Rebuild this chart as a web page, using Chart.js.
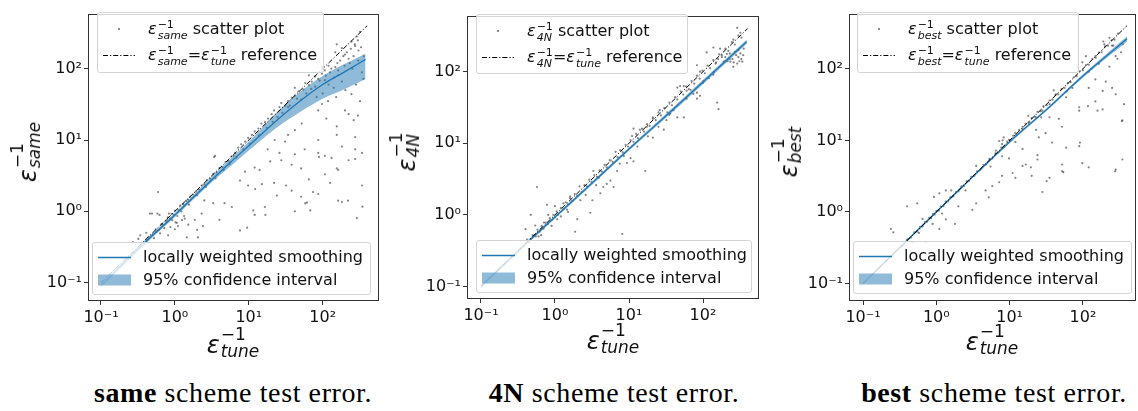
<!DOCTYPE html>
<html lang="en">
<head>
<meta charset="UTF-8">
<title>Scheme test error vs tuned error</title>
<script src="https://cdn.jsdelivr.net/npm/chart.js"></script>
<style>
  body { margin:0; width:1138px; height:411px; position:relative; overflow:hidden; background:#fff;
         font-family:'DejaVu Sans', sans-serif; color:#111; }
  canvas { position:absolute; }
  .e { font-style:italic; }
  .ss { display:inline-flex; flex-direction:column; font-size:11px; line-height:10.5px; vertical-align:6px; margin-left:1px; }
  .ss .sb { font-style:italic; }
  .leg { position:absolute; z-index:2; box-sizing:border-box; background:rgba(255,255,255,0.8);
         border:1px solid #d4d4d4; border-radius:3px; font-size:16px; }
  .row { position:absolute; left:0; right:0; height:24px; }
  .row svg { position:absolute; left:5px; top:6px; }
  .row .txt { position:absolute; left:50px; top:0; line-height:24px; white-space:nowrap; }
  .ttl { position:absolute; font-size:24px; line-height:24px; white-space:nowrap; transform:translate(-50%,-50%); }
  .ttl.y { transform:translate(-50%,-50%) rotate(-90deg); }
  .ttl .ss { font-size:17px; line-height:17px; vertical-align:13px; }
  .cap { position:absolute; top:379px; font-family:'Liberation Serif', serif; font-size:28px; line-height:28px;
         letter-spacing:0.6px; white-space:nowrap; transform:translateX(-50%); color:#000; }
</style>
</head>
<body>
<canvas id="c1"></canvas>
<canvas id="c2"></canvas>
<canvas id="c3"></canvas>

<!-- legends -->
<div class="leg" style="left:97px;top:12px;width:227px;height:61px">
  <div class="row" style="top:4px"><svg width="34" height="12"><circle cx="16" cy="6" r="1.1" fill="rgba(50,50,50,0.7)"/></svg>
    <span class="txt"><span class="e">ε</span><span class="ss"><span>−1</span><span class="sb">same</span></span> scatter plot</span></div>
  <div class="row" style="top:30px"><svg width="34" height="12"><line x1="0" y1="6.5" x2="32" y2="6.5" stroke="#000" stroke-width="1" stroke-dasharray="5 2 1.2 2"/></svg>
    <span class="txt"><span class="e">ε</span><span class="ss"><span>−1</span><span class="sb">same</span></span>=<span class="e">ε</span><span class="ss"><span>−1</span><span class="sb">tune</span></span> reference</span></div>
</div>
<div class="leg" style="left:92px;top:242px;width:279px;height:53px">
  <div class="row" style="top:2px"><svg width="34" height="12"><line x1="0" y1="6.5" x2="33" y2="6.5" stroke="#1f77b4" stroke-width="1.3"/></svg>
    <span class="txt">locally weighted smoothing</span></div>
  <div class="row" style="top:25px"><svg width="34" height="12"><rect x="0" y="0.5" width="33" height="11" fill="rgba(31,119,180,0.5)"/></svg>
    <span class="txt">95% confidence interval</span></div>
</div>

<div class="leg" style="left:476px;top:14px;width:212px;height:60px">
  <div class="row" style="top:4px"><svg width="34" height="12"><circle cx="16" cy="6" r="1.1" fill="rgba(50,50,50,0.7)"/></svg>
    <span class="txt"><span class="e">ε</span><span class="ss"><span>−1</span><span class="sb">4N</span></span> scatter plot</span></div>
  <div class="row" style="top:30px"><svg width="34" height="12"><line x1="0" y1="6.5" x2="32" y2="6.5" stroke="#000" stroke-width="1" stroke-dasharray="5 2 1.2 2"/></svg>
    <span class="txt"><span class="e">ε</span><span class="ss"><span>−1</span><span class="sb">4N</span></span>=<span class="e">ε</span><span class="ss"><span>−1</span><span class="sb">tune</span></span> reference</span></div>
</div>
<div class="leg" style="left:476px;top:240px;width:276px;height:53px">
  <div class="row" style="top:2px"><svg width="34" height="12"><line x1="0" y1="6.5" x2="33" y2="6.5" stroke="#1f77b4" stroke-width="1.3"/></svg>
    <span class="txt">locally weighted smoothing</span></div>
  <div class="row" style="top:25px"><svg width="34" height="12"><rect x="0" y="0.5" width="33" height="11" fill="rgba(31,119,180,0.5)"/></svg>
    <span class="txt">95% confidence interval</span></div>
</div>

<div class="leg" style="left:857px;top:12px;width:222px;height:61px">
  <div class="row" style="top:4px"><svg width="34" height="12"><circle cx="16" cy="6" r="1.1" fill="rgba(50,50,50,0.7)"/></svg>
    <span class="txt"><span class="e">ε</span><span class="ss"><span>−1</span><span class="sb">best</span></span> scatter plot</span></div>
  <div class="row" style="top:30px"><svg width="34" height="12"><line x1="0" y1="6.5" x2="32" y2="6.5" stroke="#000" stroke-width="1" stroke-dasharray="5 2 1.2 2"/></svg>
    <span class="txt"><span class="e">ε</span><span class="ss"><span>−1</span><span class="sb">best</span></span>=<span class="e">ε</span><span class="ss"><span>−1</span><span class="sb">tune</span></span> reference</span></div>
</div>
<div class="leg" style="left:853px;top:241px;width:279px;height:53px">
  <div class="row" style="top:2px"><svg width="34" height="12"><line x1="0" y1="6.5" x2="33" y2="6.5" stroke="#1f77b4" stroke-width="1.3"/></svg>
    <span class="txt">locally weighted smoothing</span></div>
  <div class="row" style="top:25px"><svg width="34" height="12"><rect x="0" y="0.5" width="33" height="11" fill="rgba(31,119,180,0.5)"/></svg>
    <span class="txt">95% confidence interval</span></div>
</div>

<!-- axis titles -->
<div class="ttl y" style="left:26px;top:152px"><span class="e">ε</span><span class="ss"><span>−1</span><span class="sb">same</span></span></div>
<div class="ttl" style="left:233px;top:343px"><span class="e">ε</span><span class="ss"><span>−1</span><span class="sb">tune</span></span></div>
<div class="ttl y" style="left:405px;top:152px"><span class="e">ε</span><span class="ss"><span>−1</span><span class="sb">4N</span></span></div>
<div class="ttl" style="left:613px;top:339px"><span class="e">ε</span><span class="ss"><span>−1</span><span class="sb">tune</span></span></div>
<div class="ttl y" style="left:787px;top:152px"><span class="e">ε</span><span class="ss"><span>−1</span><span class="sb">best</span></span></div>
<div class="ttl" style="left:992px;top:340px"><span class="e">ε</span><span class="ss"><span>−1</span><span class="sb">tune</span></span></div>

<!-- captions -->
<div class="cap" style="left:233px"><b>same</b> scheme test error.</div>
<div class="cap" style="left:614px"><b>4N</b> scheme test error.</div>
<div class="cap" style="left:994px"><b>best</b> scheme test error.</div>

<script>
// log axes: same ticks on every panel
const tickVals = [0.1, 1, 10, 100];
const tickLabels = ['10⁻¹', '10⁰', '10¹', '10²'];
// reference line y = x, drawn between these tune values
const refEnds = [0.1, 400];

// scatter points [eps_tune^-1, eps_scheme^-1]
const samePts = [
  [0.24,0.23],[0.27,0.37],[0.28,0.26],[0.31,0.29],[0.32,0.41],[0.34,0.46],[0.35,0.33],[0.38,0.36],[0.41,0.5],[0.42,0.39],
  [0.44,0.43],[0.46,0.93],[0.49,0.93],[0.5,0.47],[0.52,0.42],[0.55,0.56],[0.57,0.52],[0.58,0.93],[0.59,1.86],[0.61,0.55],
  [0.63,0.49],[0.62,0.89],[0.66,0.66],[0.69,0.64],[0.72,0.58],[0.75,0.73],[0.78,0.76],[0.8,0.82],[0.81,0.46],[0.83,0.93],
  [0.86,0.79],[0.87,0.6],[0.9,0.92],[0.92,0.75],[0.96,0.9],[1.0,1.02],[1.02,0.7],[1.0,0.56],[1.06,0.69],[1.08,0.86],
  [1.12,1.05],[1.1,0.62],[1.18,1.2],[1.22,1.0],[1.25,0.75],[1.3,1.26],[1.33,0.86],[1.36,0.79],[1.42,1.4],[1.45,0.43],
  [1.5,1.46],[1.55,1.24],[1.52,0.65],[1.62,1.6],[1.76,1.72],[1.86,0.76],[1.92,1.9],[2.0,1.68],[2.0,0.55],[2.05,0.43],
  [2.12,2.02],[2.3,2.3],[2.3,0.93],[2.4,0.62],[2.5,2.38],[2.5,1.42],[2.62,2.2],[2.72,2.74],[3.0,2.88],[3.3,3.36],
  [3.3,1.3],[3.4,5.8],[3.5,6.0],[3.55,2.9],[3.65,3.5],[4.0,4.05],[4.0,0.76],[4.4,4.18],[4.55,3.8],[4.7,1.3],
  [4.85,4.9],[5.3,5.05],[5.5,4.6],[5.8,5.9],[5.9,1.15],[6.2,6.0],[6.5,6.6],[6.8,5.7],[7.2,7.8],[7.6,2.7],
  [7.6,0.54],[7.9,8.7],[8.4,7.4],[8.9,9.5],[8.9,3.6],[9.5,0.59],[9.8,10.7],[9.8,2.3],[10.3,8.8],[11,11.8],
  [11.5,1.03],[12,13.2],[12,4.1],[12.2,2.05],[12,0.89],[13.5,14.5],[13.8,11.6],[14,3.8],[14.8,17],[15,2.4],
  [16.5,1.15],[16.6,17.8],[16.8,0.89],[17.5,14.8],[18.2,20],[18,7.4],[19.5,5.0],[20.4,23],[21,18],[22,26],
  [22,2.5],[22.4,10],[24,1.66],[24.5,21],[26,29],[26,6.6],[27.5,33],[27.5,5.2],[28.5,24],[31,30],
  [31,9.5],[32,2.3],[34,35],[34,29],[34,11.8],[36,30.5],[38,39],[38,4.5],[38,1.95],[42,42],
  [42,54],[42,13.8],[42,6.3],[42,1.0],[45,38],[47,48],[51,37],[51,4.0],[51,1.6],[52,17],
  [55,51],[57,7.4],[58,63],[58,1.29],[60,45],[61,1.32],[65,59],[65,81],[65,2.8],[68,1.03],
  [70,52],[71,66],[74,1.86],[79,78],[79,56],[83,40],[87,72],[87,26],[87,10],[87,6.6],
  [89,5.8],[87,1.75],[91,68],[98,85],[98,105],[98,32],[100,45],[107,95],[107,69],[107,6.0],
  [107,3.3],[110,80],[112,20],[118,35],[120,110],[120,60],[126,89],[126,2.5],[131,100],[132,5.6],
  [141,54],[142,75],[148,105],[148,170],[152,40],[155,220],[155,15.5],[155,11.8],[155,4.0],[158,120],
  [162,81],[162,95],[162,3.8],[162,1.41],[172,130],[182,195],[182,66],[182,8.1],[182,1.35],[190,150],
  [198,110],[200,158],[200,26],[203,50],[212,170],[220,1.41],[224,138],[224,23],[224,5.2],[232,120],
  [240,190],[245,240],[245,44],[252,100],[263,19],[262,150],[272,220],[275,209],[275,11],[275,7.4],
  [275,5.4],[282,60],[290,282],[290,0.8],[300,22],[300,250],[302,130],[305,180],[320,330],[320,35],
  [330,200],[340,89],[340,6.6],[340,2.3],[345,1.16],[355,72],[360,150]
];
const fourNPts = [
  [0.42,0.45],[0.45,0.41],[0.5,0.52],[0.55,0.5],[0.58,0.62],[0.62,0.58],[0.66,0.7],[0.7,0.64],[0.75,0.78],[0.8,0.74],
  [0.85,0.9],[0.9,0.84],[0.95,1.0],[1.0,0.93],[1.05,1.12],[1.1,1.0],[1.2,1.25],[1.3,1.2],[1.4,1.5],[1.5,1.4],
  [1.6,1.7],[1.7,1.55],[1.85,1.95],[2.0,1.85],[2.15,2.5],[2.3,2.1],[2.5,2.6],[2.7,2.5],[2.9,3.1],[3.1,2.9],
  [3.4,3.6],[3.7,3.4],[4.0,4.2],[4.3,4.0],[4.7,5.0],[5.0,4.6],[5.5,5.8],[6.0,5.5],[6.6,7.6],[7.0,6.4],
  [7.6,8.0],[8.2,7.5],[9.0,9.5],[9.7,9.0],[10.5,11],[11.5,10.5],[12.5,13.5],[13.2,11.8],[15,16],[16,14.5],
  [17.5,18.5],[19,17.5],[21,22],[23,21],[25,27],[27,24.5],[30,31],[33,27],[35,37],[38,34],
  [42,44],[45,41],[50,53],[54,48],[59,62],[64,57],[70,74],[76,68],[83,88],[90,80],
  [98,104],[106,95],[115,122],[125,112],[138,145],[150,135],[165,175],[180,160],[200,210],[220,195],
  [245,260],[270,240],[300,320],[330,300],
  [0.6,0.5],[0.65,0.52],[0.9,0.7],[1.2,0.95],[1.5,1.1],[2.2,1.6],[2.6,1.9],[3.6,2.6],[7.5,5.2],[13,9],
  [18,12.5],[25,17],[35,25],[60,42],[100,70],[140,98],[200,140],[300,200],[280,170],[230,150],
  [0.57,2.45],[0.78,1.38],[0.47,1.0],[0.4,0.63],[0.54,0.71],[0.71,0.78],[1.0,1.32],[1.3,1.45],[1.6,1.8],[1.45,1.18],
  [2.0,0.87],[1.87,0.58],[3.0,1.07],[3.2,1.6],[3.3,4.1],[4.1,2.0],[4.5,2.45],[5.0,2.7],[5.6,3.0],[6.2,2.45],
  [3.9,3.3],[8.1,0.54],[16.6,4.1],[11.5,5.6],[10.5,6.2],[9.4,5.3],[8.5,6.6],[6.9,4.1],[1.07,0.87],[0.81,1.0],
  [290,410],[320,350],[257,280],[170,210],[138,218],[210,178],[190,138],[234,138],[290,130],[340,138],
  [257,117],[355,210],[148,130],[138,91],[120,81],[91,100],[102,74],[83,51],[74,49],[91,46],
  [83,42],[68,56],[60,54],[49,63],[45,60],[155,37],[162,30],[40,29],[36,26],[45,23],
  [32,21],[55,23],[26,29],[21,23],[17.4,17],[14,15.5],[21,12],[29.5,15.5],[11.5,16],[11,12.6],
  [55,63],[112,186],[83,123],[160,150],[200,160],[230,180],[250,150],[270,190],[300,160],[320,180],
  [330,150],[180,170],[215,140],[260,135],[310,140],[350,170]
];
const bestPts = [
  [0.35,0.34],[0.4,0.41],[0.45,0.44],[0.5,0.52],[0.55,0.53],[0.6,0.62],[0.65,0.63],[0.7,0.72],[0.75,0.73],[0.8,0.83],
  [0.85,0.82],[0.9,0.93],[0.95,0.92],[1.0,1.03],[1.08,1.05],[1.15,1.19],[1.25,1.21],[1.35,1.4],[1.45,1.41],[1.55,1.6],
  [1.7,1.65],[1.85,1.9],[2.0,1.95],[2.2,2.27],[2.4,2.33],[2.6,2.7],[2.8,2.72],[3.0,3.1],[3.3,3.2],[3.6,3.7],
  [4.0,3.9],[4.4,4.55],[4.8,4.65],[5.3,5.5],[5.8,5.6],[6.4,6.6],[7.0,6.8],[7.7,7.9],[8.5,8.2],[9.3,9.6],
  [10.2,9.9],[11.2,11.6],[12.3,11.9],[13.5,14],[15,14.5],[16.5,17],[18,17.5],[20,20.5],[22,21.5],[24,25],
  [26.5,25.5],[29,30],[32,31],[35,36],[38.5,37],[42,43],[46,44],[51,52],[56,54],[62,63],
  [68,65],[75,76],[82,79],[90,92],[100,95],[110,112],[120,114],[135,137],[150,142],[165,168],
  [180,170],[200,205],[220,210],[245,250],[270,255],[300,310],
  [0.48,0.38],[0.65,0.8],[1.2,0.95],[1.6,2.0],[2.5,2.0],[3.5,4.4],[5.5,4.3],[8,10],[12,9.5],[18,22],
  [27,21],[40,50],[60,48],[85,105],[130,100],[190,240],[260,210],
  [148,35],[89,29],[89,26],[158,26],[365,32],[345,19],[89,8.3],[47,20],[52,15.5],[35,21],
  [31,12.6],[23,14],[25,11],[38,9.3],[59,7.9],[24,6.2],[15,7.6],[7.2,9.8],[8.3,11],[120,54],
  [186,49],[250,54],[280,44],[120,91],[205,66],[230,107],[280,150],[250,210],[230,270],[196,220],
  [148,150],[165,117],[110,150],[98,123],[330,170],[350,220],[295,138],[148,71],[72,54],[59,40],
  [43,44],[35,32],[28,26],[23,21],[18.6,18],[15,15.5],[12,12.6],[9.8,10.2],[7.9,8.9],[6.5,7.2],
  [7.9,6.0],[9.8,5.6],[16.6,4.6],[15,4.4],[24,5.4],[52,3.7],[35,3.0],[20,3.2],[12,3.0],[11,3.5],
  [7.9,3.2],[7.2,2.6],[5.8,2.3],[4.7,2.0],[5.2,1.6],[3.5,1.32],[3.1,1.07],[2.0,1.2],[1.8,0.68],[1.35,0.79],
  [1.1,0.58],[0.89,0.68],[0.72,0.38],[0.58,0.51],[0.4,1.2],[0.55,1.32],[0.24,0.58],[0.26,0.52],[1.1,1.82],[0.93,1.62],
  [1.35,2.0],[28,1.9],[280,3.9],[345,5.4],[120,4.2],[98,4.8],[52,4.6],[19.5,4.2],[340,18.6],[275,3.7],
  [91,9.3],[54,3.6],[32,2.7],[117,30],[186,27]
];

// locally weighted smoothing and its 95% band
const sameFitX = [0.1, 0.4, 1, 3.2, 5.8, 10, 23, 50, 100, 200, 380];
const sameFit  = [0.091, 0.37, 0.89, 2.8, 5.0, 8.3, 18.2, 35.5, 60, 91, 135];
const sameLo   = [0.085, 0.35, 0.83, 2.6, 4.4, 7.1, 14.5, 25, 38, 52, 72];
const sameHi   = [0.098, 0.40, 0.95, 3.1, 5.6, 9.5, 23.4, 48, 79, 117, 162];

const fourNFitX = [0.1, 0.4, 1, 3.2, 10, 32, 100, 390];
const fourNFit  = [0.1, 0.39, 0.93, 2.8, 8.3, 24.5, 72, 263];
const fourNLo   = [0.095, 0.37, 0.89, 2.65, 7.9, 23, 67, 245];
const fourNHi   = [0.105, 0.41, 0.97, 2.95, 8.7, 26, 77, 282];

const bestFitX = [0.1, 1, 10, 32, 100, 400];
const bestFit  = [0.1, 1.0, 9.5, 27, 79, 263];
const bestLo   = [0.096, 0.97, 9.2, 26, 75, 240];
const bestHi   = [0.104, 1.03, 9.8, 28, 83, 285];

const LEFT = 60, BOTTOM = 30, PADTOP = 2, PADRIGHT = 4;

// plot boxes in page pixels
const panels = [
  { id:'c1', left:88,  top:4, w:291, h:297, xmin:0.0667, xmax:578, ymin:0.0552, ymax:593,
    pts:samePts, fx:sameFitX, f:sameFit, lo:sameLo, hi:sameHi },
  { id:'c2', left:467, top:6, w:292, h:293, xmin:0.0647, xmax:571, ymin:0.0667, ymax:608,
    pts:fourNPts, fx:fourNFitX, f:fourNFit, lo:fourNLo, hi:fourNHi },
  { id:'c3', left:849, top:4, w:287, h:297, xmin:0.0644, xmax:530, ymin:0.0571, ymax:589,
    pts:bestPts, fx:bestFitX, f:bestFit, lo:bestLo, hi:bestHi }
];

const frame = {
  id: 'frame',
  afterDatasetsDraw(chart) {
    const a = chart.chartArea, c = chart.ctx;
    c.save();
    c.strokeStyle = '#333';
    c.lineWidth = 1;
    c.strokeRect(Math.round(a.left) + 0.5, Math.round(a.top) + 0.5,
                 Math.round(a.right - a.left) - 1, Math.round(a.bottom - a.top) - 1);
    c.restore();
  }
};

function axis(min, max, isX) {
  return {
    type: 'logarithmic', min: min, max: max,
    afterBuildTicks: s => { s.ticks = tickVals.map(v => ({ value: v })); },
    afterFit: s => { if (isX) s.height = BOTTOM; else s.width = LEFT; },
    ticks: {
      callback: (v, i) => tickLabels[i],
      font: { family: 'DejaVu Sans', size: 16 }, color: '#111',
      padding: isX ? 3 : 2, autoSkip: false, maxRotation: 0
    },
    grid: { drawOnChartArea: false, drawTicks: true, tickLength: 4, color: '#333' },
    border: { display: false }
  };
}

panels.forEach(p => {
  const cv = document.getElementById(p.id);
  const W = LEFT + p.w + PADRIGHT, H = PADTOP + p.h + BOTTOM;
  cv.width = W; cv.height = H;
  cv.style.width = W + 'px'; cv.style.height = H + 'px';
  cv.style.left = (p.left - LEFT) + 'px';
  cv.style.top = (p.top - PADTOP) + 'px';

  new Chart(cv.getContext('2d'), {
    type: 'scatter',
    data: {
      datasets: [
        { type: 'line', data: refEnds.map(v => ({ x: v, y: v })), borderColor: '#000', borderWidth: 1,
          borderDash: [5, 2, 1.2, 2], pointRadius: 0, order: 1 },
        { type: 'line', data: p.fx.map((x, i) => ({ x: x, y: p.f[i] })), borderColor: '#1f77b4', borderWidth: 1.3,
          pointRadius: 0, cubicInterpolationMode: 'monotone', order: 2 },
        { type: 'line', data: p.fx.map((x, i) => ({ x: x, y: p.lo[i] })), borderWidth: 0, pointRadius: 0,
          cubicInterpolationMode: 'monotone', fill: false, order: 3 },
        { type: 'line', data: p.fx.map((x, i) => ({ x: x, y: p.hi[i] })), borderWidth: 0, pointRadius: 0,
          cubicInterpolationMode: 'monotone', fill: '-1', backgroundColor: 'rgba(31,119,180,0.5)', order: 3 },
        { type: 'scatter', data: p.pts.map(q => ({ x: q[0], y: q[1] })), pointRadius: 1.1, borderWidth: 0,
          backgroundColor: 'rgba(50,50,50,0.6)', order: 4 }
      ]
    },
    options: {
      responsive: false, animation: false, devicePixelRatio: 1,
      layout: { padding: { top: PADTOP, right: PADRIGHT, left: 0, bottom: 0 } },
      plugins: { legend: { display: false }, tooltip: { enabled: false } },
      scales: { x: axis(p.xmin, p.xmax, true), y: axis(p.ymin, p.ymax, false) }
    },
    plugins: [frame]
  });
});
</script>
</body>
</html>
